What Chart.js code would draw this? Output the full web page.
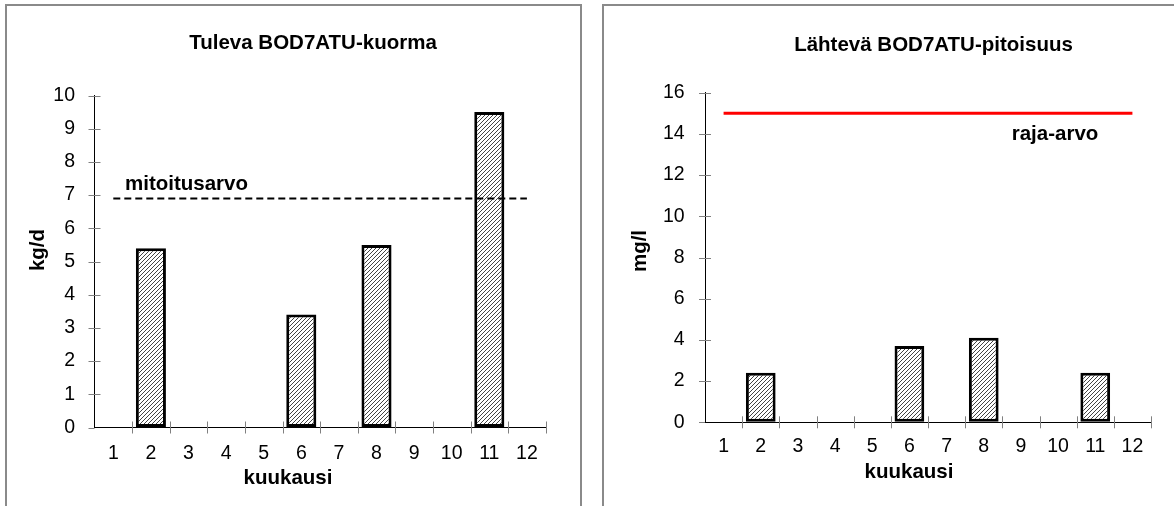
<!DOCTYPE html>
<html>
<head>
<meta charset="utf-8">
<script src="https://cdn.jsdelivr.net/npm/chart.js@4.4.1/dist/chart.umd.min.js"></script>
<style>
  html, body { margin: 0; padding: 0; background: #fff; }
  body { width: 1174px; height: 506px; position: relative; overflow: hidden; }
  .frame { position: absolute; border: 2px solid #8a8a8a; box-sizing: border-box; }
  canvas { position: absolute; top: 0; }
</style>
</head>
<body>
<div class="frame" style="left:5px; top:4px; width:577px; height:540px;"></div>
<div class="frame" style="left:602px; top:4px; width:600px; height:540px;"></div>
<canvas id="loadChart" width="590" height="506" style="left:0;"></canvas>
<canvas id="concChart" width="584" height="506" style="left:590px;"></canvas>
<script>
// Months of the year on the category axis
const months = ['1', '2', '3', '4', '5', '6', '7', '8', '9', '10', '11', '12'];

// Incoming BOD7ATU load, kg/d (months without a measurement are null)
const inflowLoad = [null, 5.4, null, null, null, 3.4, null, 5.5, null, null, 9.5, null];
// Design load, kg/d
const designLoad = 6.9;
const loadTicks = [0, 1, 2, 3, 4, 5, 6, 7, 8, 9, 10];

// Outgoing BOD7ATU concentration, mg/l
const effluentConc = [null, 2.4, null, null, null, 3.7, null, 4.1, null, null, 2.4, null];
// Permit limit, mg/l
const limitConc = 15;
const concTicks = [0, 2, 4, 6, 8, 10, 12, 14, 16];

const FONT = "'Liberation Sans', Arial, Helvetica, sans-serif";

// Diagonal hatch fill for the bars
function hatchPattern() {
  const c = document.createElement('canvas');
  c.width = 4; c.height = 4;
  const g = c.getContext('2d');
  g.fillStyle = '#ffffff';
  g.fillRect(0, 0, 4, 4);
  g.strokeStyle = '#444444';
  g.lineWidth = 1;
  g.beginPath();
  g.moveTo(-1, 5); g.lineTo(5, -1);
  g.moveTo(-1, 1); g.lineTo(1, -1);
  g.moveTo(3, 5); g.lineTo(5, 3);
  g.stroke();
  return g.createPattern(c, 'repeat');
}

// Tick marks crossing both axes, plus the chart texts
const decorPlugin = {
  id: 'decor',
  afterDraw(chart, args, opts) {
    const ctx = chart.ctx;
    const x = chart.scales.x, y = chart.scales.y;
    const area = chart.chartArea;
    ctx.save();
    ctx.strokeStyle = '#808080';
    ctx.lineWidth = 1;
    ctx.beginPath();
    const n = x.ticks.length;
    const step = (area.right - area.left) / n;
    for (let i = 1; i <= n; i++) {
      const px = Math.round(area.left + i * step) + 0.5;
      ctx.moveTo(px, area.bottom - 6);
      ctx.lineTo(px, area.bottom + 6);
    }
    y.ticks.forEach(t => {
      const py = Math.round(y.getPixelForValue(t.value)) + 0.5;
      if (t.value === 0) {
        ctx.moveTo(area.left - 6, py);
        ctx.lineTo(area.left, py);
      } else {
        ctx.moveTo(area.left - 6, py);
        ctx.lineTo(area.left + 6, py);
      }
    });
    ctx.stroke();

    ctx.fillStyle = '#000';
    ctx.textBaseline = 'middle';
    ctx.font = 'bold ' + opts.boldSize + 'px ' + FONT;
    ctx.textAlign = 'center';
    ctx.fillText(opts.title.text, opts.title.x, opts.title.y);
    ctx.fillText(opts.xTitle.text, opts.xTitle.x, opts.xTitle.y);
    ctx.textAlign = 'left';
    ctx.fillText(opts.refLabel.text, opts.refLabel.x, opts.refLabel.y);
    ctx.save();
    ctx.translate(opts.yTitle.x, opts.yTitle.y);
    ctx.rotate(-Math.PI / 2);
    ctx.textAlign = 'center';
    ctx.fillText(opts.yTitle.text, 0, 0);
    ctx.restore();
    ctx.restore();
  }
};

function buildChart(canvasId, spec) {
  const a = spec.area;
  const canvas = document.getElementById(canvasId);
  return new Chart(canvas, {
    type: 'bar',
    data: {
      labels: months,
      datasets: [
        {
          type: 'line',
          data: [{ x: months[0], y: spec.refValue }, { x: months[months.length - 1], y: spec.refValue }],
          borderColor: spec.refColor,
          borderWidth: spec.refWidth,
          borderDash: spec.refDash,
          pointRadius: 0,
          fill: false,
          tension: 0,
          order: 0
        },
        {
          type: 'bar',
          data: spec.values,
          backgroundColor: hatchPattern(),
          borderColor: '#000',
          borderWidth: 3,
          borderSkipped: false,
          barPercentage: 0.8,
          categoryPercentage: 1,
          order: 1
        }
      ]
    },
    options: {
      responsive: false,
      animation: false,
      devicePixelRatio: 1,
      layout: { padding: { left: 0, top: a.top, right: canvas.width - a.right, bottom: 0 } },
      plugins: {
        legend: { display: false },
        tooltip: { enabled: false },
        title: { display: false },
        decor: spec.texts
      },
      scales: {
        x: {
          offset: true,
          grid: { display: true, drawOnChartArea: false, drawTicks: false },
          border: { display: true, color: '#000', width: 1 },
          ticks: { color: '#000', font: { family: FONT, size: 19.5 }, padding: spec.xPad, maxRotation: 0, autoSkip: false },
          afterFit(s) { s.height = canvas.height - a.bottom; }
        },
        y: {
          min: spec.ticks[0],
          max: spec.ticks[spec.ticks.length - 1],
          afterBuildTicks(s) { s.ticks = spec.ticks.map(v => ({ value: v })); },
          grid: { display: true, drawOnChartArea: false, drawTicks: false },
          border: { display: true, color: '#000', width: 1 },
          ticks: { color: '#000', font: { family: FONT, size: 19.5 }, padding: spec.yPad },
          afterFit(s) { s.width = a.left; }
        }
      }
    },
    plugins: [decorPlugin]
  });
}

buildChart('loadChart', {
  area: { left: 94.5, right: 545.7, top: 95.5, bottom: 427.5 },
  values: inflowLoad,
  ticks: loadTicks,
  refValue: designLoad,
  refColor: '#000',
  refWidth: 2,
  refDash: [7, 4],
  xPad: 14,
  yPad: 19.5,
  texts: {
    boldSize: 20.5,
    title: { text: 'Tuleva BOD7ATU-kuorma', x: 313, y: 43 },
    xTitle: { text: 'kuukausi', x: 288, y: 478 },
    yTitle: { text: 'kg/d', x: 38, y: 250 },
    refLabel: { text: 'mitoitusarvo', x: 125, y: 184 }
  }
});

buildChart('concChart', {
  area: { left: 115, right: 561, top: 92.7, bottom: 422.3 },
  values: effluentConc,
  ticks: concTicks,
  refValue: limitConc,
  refColor: '#ff0000',
  refWidth: 3,
  refDash: [],
  xPad: 12.6,
  yPad: 20.4,
  texts: {
    boldSize: 20.5,
    title: { text: 'Lähtevä BOD7ATU-pitoisuus', x: 343.5, y: 45 },
    xTitle: { text: 'kuukausi', x: 319, y: 472 },
    yTitle: { text: 'mg/l', x: 50, y: 251 },
    refLabel: { text: 'raja-arvo', x: 421.7, y: 134 }
  }
});
</script>
</body>
</html>
